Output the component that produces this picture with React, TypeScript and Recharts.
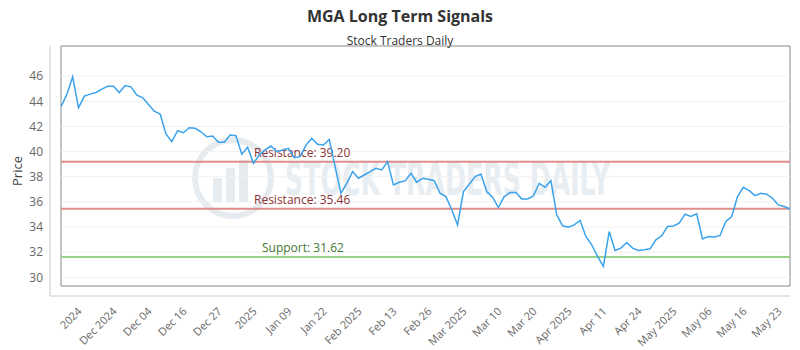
import { LineChart, Line, XAxis, YAxis, ReferenceLine, ReferenceArea } from "recharts";

const prices = [
  43.57, 44.55, 45.95, 43.49, 44.41, 44.57, 44.7, 44.97, 45.2, 45.2,
  44.7, 45.26, 45.15, 44.49, 44.3, 43.75, 43.22, 42.98, 41.4, 40.79,
  41.66, 41.5, 41.9, 41.85, 41.58, 41.18, 41.24, 40.74, 40.74, 41.32,
  41.26, 39.79, 40.34, 39.07, 39.73, 40.13, 40.44, 40.0, 40.13, 40.26,
  39.52, 39.6, 40.52, 41.05, 40.58, 40.52, 40.97, 38.8, 36.69, 37.48,
  38.41, 37.88, 38.14, 38.41, 38.67, 38.54, 39.2, 37.35, 37.56, 37.67,
  38.28, 37.56, 37.88, 37.8, 37.69, 36.69, 36.42, 35.37, 34.17, 36.82,
  37.4, 38.01, 38.22, 36.82, 36.37, 35.55, 36.42, 36.74, 36.74, 36.24,
  36.24, 36.48, 37.48, 37.16, 37.69, 34.97, 34.1, 33.99, 34.17, 34.52,
  33.25, 32.59, 31.66, 30.87, 33.64, 32.14, 32.32, 32.77, 32.32, 32.14,
  32.19, 32.27, 32.98, 33.3, 34.04, 34.09, 34.31, 35.02, 34.84, 35.05,
  33.06, 33.25, 33.2, 33.33, 34.44, 34.84, 36.42, 37.16, 36.9, 36.5,
  36.69, 36.61, 36.29, 35.76, 35.63, 35.44,
];

const tickLabels = [
  "2024", "Dec 2024", "Dec 04", "Dec 16", "Dec 27", "2025", "Jan 09",
  "Jan 22", "Feb 2025", "Feb 13", "Feb 26", "Mar 2025", "Mar 10", "Mar 20",
  "Apr 2025", "Apr 11", "Apr 24", "May 2025", "May 06", "May 16", "May 23",
];
const firstTick = 3;
const tickStep = 6;

const yTicks = [30, 32, 34, 36, 38, 40, 42, 44, 46];
const yMin = 29.31;
const yMax = 48.4;

const resistanceHigh = 39.2;
const resistanceLow = 35.46;
const support = 31.62;

const data = prices.map((price, i) => ({ i, price }));
const lastIndex = prices.length - 1;
const tickIndexes = tickLabels.map((_, k) => firstTick + k * tickStep);
const labelFor = new Map(tickIndexes.map((t, k) => [t, tickLabels[k]]));

const font = "'Open Sans', sans-serif";

const XTick = ({ x, y, payload }: any) => (
  <text
    x={x + 4}
    y={y + 8}
    transform={`rotate(-45, ${x + 4}, ${y + 8})`}
    textAnchor="end"
    fontSize={11}
    fontFamily={font}
    fill="#666"
  >
    {labelFor.get(payload.value)}
  </text>
);

const lineLabel = (text: string, color: string, dx: number) => (props: any) => {
  const { viewBox } = props;
  return (
    <text
      x={viewBox.x + dx}
      y={viewBox.y - 5}
      fill={color}
      fontSize={12}
      fontFamily={font}
    >
      {text}
    </text>
  );
};

const PriceLabel = (props: any) => {
  const { viewBox } = props;
  const cx = viewBox.x + 17;
  const cy = viewBox.y + viewBox.height / 2;
  return (
    <text
      x={cx}
      y={cy}
      transform={`rotate(-90, ${cx}, ${cy})`}
      textAnchor="middle"
      dominantBaseline="central"
      fontSize={13}
      fontFamily={font}
      fill="#444"
    >
      Price
    </text>
  );
};

const Watermark = () => (
  <svg
    width={800}
    height={350}
    style={{ position: "absolute", left: 0, top: 0, zIndex: 0 }}
  >
    <circle cx={233} cy={178} r={38} fill="none" stroke="#e6ebf0" strokeWidth={6} />
    <rect x={213} y={178} width={9} height={24} fill="#e6ebf0" />
    <rect x={226} y={168} width={9} height={34} fill="#e6ebf0" />
    <rect x={239} y={160} width={9} height={42} fill="#e6ebf0" />
    <text
      x={285}
      y={195}
      fontSize={44}
      fontWeight={700}
      fontFamily="'DejaVu Sans', sans-serif"
      fill="#e8edf2"
      textLength={325}
      lengthAdjust="spacingAndGlyphs"
    >
      STOCK TRADERS DAILY
    </text>
  </svg>
);

export default function App() {
  return (
    <div style={{ position: "relative", width: 800, height: 350, background: "#fff" }}>
      <style>{`body{margin:0}`}</style>
      <Watermark />
      <div
        style={{
          position: "absolute",
          top: 5,
          width: 800,
          textAlign: "center",
          fontFamily: font,
          fontWeight: 700,
          fontSize: 16,
          color: "#333",
          zIndex: 2,
        }}
      >
        MGA Long Term Signals
      </div>
      <div
        style={{
          position: "absolute",
          top: 32,
          width: 800,
          textAlign: "center",
          fontFamily: font,
          fontSize: 12,
          color: "#333",
          zIndex: 2,
        }}
      >
        Stock Traders Daily
      </div>
      <div style={{ position: "absolute", left: 0, top: 0, zIndex: 1 }}>
        <LineChart
          width={800}
          height={350}
          data={data}
          margin={{ top: 46, right: 10, bottom: 0, left: 0 }}
        >
          <XAxis
            type="number"
            dataKey="i"
            domain={[0, lastIndex]}
            ticks={tickIndexes}
            interval={0}
            tick={<XTick />}
            tickLine={false}
            axisLine={{ stroke: "#ccc" }}
            padding={{ left: 11, right: 0 }}
            height={54}
            allowDataOverflow
          />
          <YAxis
            type="number"
            domain={[yMin, yMax]}
            ticks={yTicks}
            interval={0}
            tickLine={false}
            axisLine={{ stroke: "#ccc" }}
            tick={{ fontSize: 12, fill: "#666", fontFamily: font }}
            tickMargin={1}
            padding={{ top: 0, bottom: 10 }}
            width={50}
            allowDataOverflow
            label={<PriceLabel />}
          />
          {yTicks.map((v) => (
            <ReferenceLine
              key={v}
              segment={[
                { x: 0, y: v },
                { x: lastIndex, y: v },
              ]}
              stroke="#f0f0f0"
              strokeWidth={1}
            />
          ))}
          <ReferenceLine
            segment={[
              { x: 0, y: resistanceHigh },
              { x: lastIndex, y: resistanceHigh },
            ]}
            stroke="#e08c8a"
            strokeWidth={2}
            label={lineLabel("Resistance: 39.20", "#8b3434", 193)}
          />
          <ReferenceLine
            segment={[
              { x: 0, y: resistanceLow },
              { x: lastIndex, y: resistanceLow },
            ]}
            stroke="#e08c8a"
            strokeWidth={2}
            label={lineLabel("Resistance: 35.46", "#8b3434", 193)}
          />
          <ReferenceLine
            segment={[
              { x: 0, y: support },
              { x: lastIndex, y: support },
            ]}
            stroke="#98d28a"
            strokeWidth={2}
            label={lineLabel("Support: 31.62", "#3f7a32", 201)}
          />
          <Line
            type="linear"
            dataKey="price"
            stroke="#3aa3eb"
            strokeWidth={1.5}
            dot={false}
            isAnimationActive={false}
          />
          <ReferenceArea
            x1={0}
            x2={lastIndex}
            y1={yMin}
            y2={yMax}
            fill="none"
            stroke="#888"
            strokeWidth={1}
            ifOverflow="visible"
          />
        </LineChart>
      </div>
    </div>
  );
}
